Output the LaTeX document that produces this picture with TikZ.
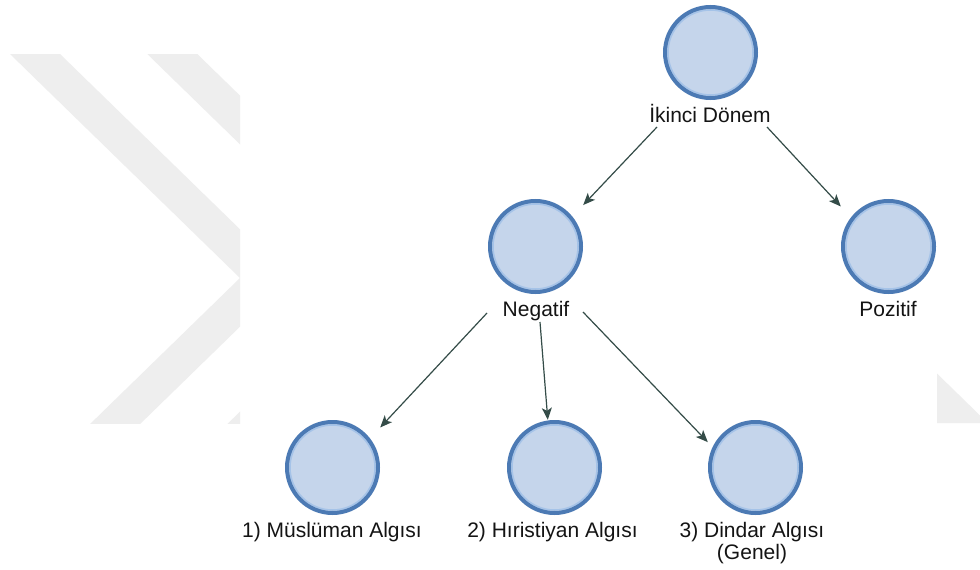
\documentclass[tikz,border=0pt]{standalone}
\usepackage{fontspec}
\setmainfont{Liberation Sans}
\usetikzlibrary{arrows.meta}
\definecolor{wm}{RGB}{238,238,238}
\definecolor{ballfill}{RGB}{197,213,235}
\definecolor{balldraw}{RGB}{76,122,180}
\definecolor{ballring}{RGB}{165,195,232}
\definecolor{edgecol}{RGB}{52,76,72}
\begin{document}
\begin{tikzpicture}[x=1pt,y=-1pt,
  ball/.style={circle, draw=balldraw, line width=4pt, fill=ballfill,
    minimum size=91pt, inner sep=0pt,
    path picture={\draw[ballring,line width=1.5pt]
      (path picture bounding box.center) circle[radius=42.5pt];}},
  hitbox/.style={rectangle, minimum size=95pt, inner sep=0pt},
  lab/.style={font=\fontsize{21}{22}\selectfont, inner sep=0pt, text=black!92, anchor=base},
  conn/.style={draw=edgecol, line width=1.2pt,
    -{Stealth[length=12pt,width=10pt,inset=3pt]}},
  chev/.style={fill=wm}]
\fill[white] (0,0) rectangle (980,570);
\useasboundingbox (0,0) rectangle (980,570);
% watermark pieces
\begin{scope}
  \clip (0,54) rectangle (240,423);
  \foreach \d in {0,137.25} {
    \fill[chev] (10+\d,54) -- (60+\d,54) -- (290+\d,278) -- (60+\d,502)
      -- (10+\d,502) -- (240+\d,278) -- cycle;
  }
\end{scope}
\fill[chev] (937,373.5) -- (980,415.5) -- (980,423) -- (937,423) -- cycle;
% nodes
\node[ball] (c0) at (710.5,52.5) {};
\node[hitbox] (n0) at (c0) {};
\node[lab] (l0) at (710,122) {İkinci Dönem};

\node[ball] (c1) at (535.5,246.5) {};
\node[hitbox] (n1) at (c1) {};
\node[lab] (l1) at (536,316) {Negatif};

\node[ball] (c2) at (888.5,246.5) {};
\node[hitbox] (n2) at (c2) {};
\node[lab] (l2) at (888,316) {Pozitif};

\node[ball] (c3) at (332.5,467.5) {};
\node[hitbox] (n3) at (c3) {};
\node[lab] (l3) at (332,537.5) {1) Müslüman Algısı};

\node[ball] (c4) at (554.5,467.5) {};
\node[hitbox] (n4) at (c4) {};
\node[lab] (l4) at (552.5,537.5) {2) Hıristiyan Algısı};

\node[ball] (c5) at (755.5,467.5) {};
\node[hitbox] (n5) at (c5) {};
\node[lab] (l5) at (752,537.5) {3) Dindar Algısı};
\node[lab] (l5b) at (752,559.5) {(Genel)};
% connectors
\draw[conn] ([xshift=-53pt,yshift=-5pt]l0.base) -- (n1.41);
\draw[conn] ([xshift=57pt,yshift=-5pt]l0.base) -- (n2.140);
\draw[conn] ([xshift=-49pt,yshift=3pt]l1.base) -- (n3.40);
\draw[conn] ([xshift=4pt,yshift=-6pt]l1.base) -- (n4.98);
\draw[conn] ([xshift=47pt,yshift=4pt]l1.base) -- (n5.152);
\end{tikzpicture}
\end{document}
